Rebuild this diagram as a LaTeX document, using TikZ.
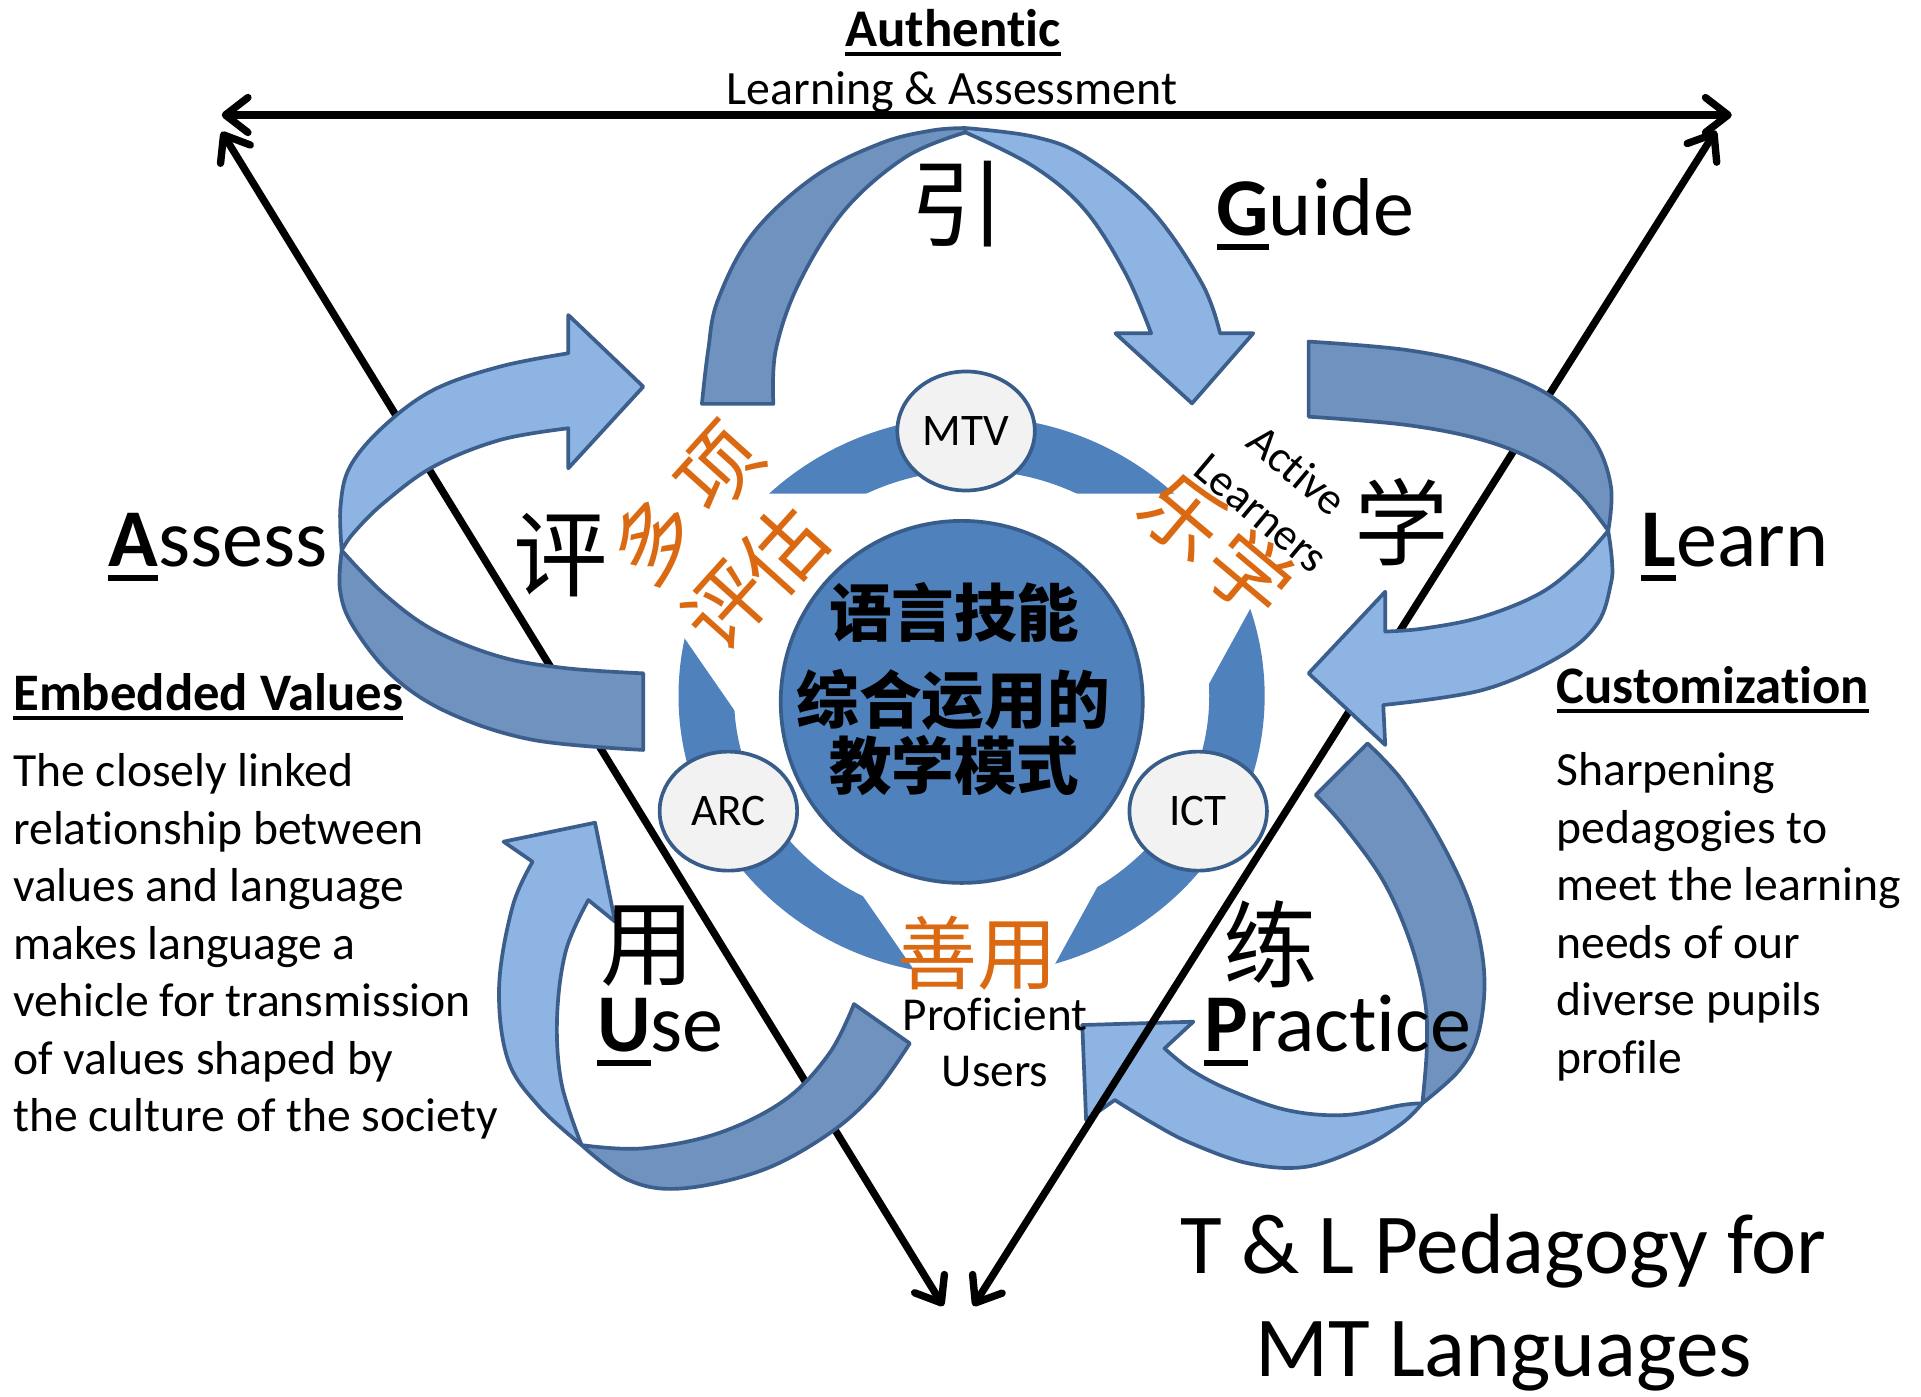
\documentclass[tikz,border=0pt]{standalone}
\usepackage{fontspec}
\setmainfont{Carlito}[Ligatures=NoCommon]
\newfontfamily\cjk{Noto Sans CJK SC}
\usetikzlibrary{arrows.meta,shapes.geometric}
\definecolor{ringblue}{RGB}{79,129,189}
\definecolor{ringedge}{RGB}{56,93,138}
\definecolor{arrdark}{RGB}{112,146,190}
\definecolor{arrlight}{RGB}{141,180,226}
\definecolor{arredge}{RGB}{59,94,140}
\definecolor{bubble}{RGB}{242,242,242}
\definecolor{orng}{RGB}{218,105,18}
\newcommand{\fs}[2]{\fontsize{#1}{#2}\selectfont}
\newcommand{\myul}[1]{\setbox0\hbox{#1}\rlap{\rule[-0.18em]{\wd0}{0.075em}}\box0}
\begin{document}
\begin{tikzpicture}[x=0.6pt,y=-0.6pt,
  every node/.style={inner sep=0pt,outer sep=0pt},
  banddark/.style={fill=arrdark,draw=arredge,line width=1.8pt,line join=round},
  bandlight/.style={fill=arrlight,draw=arredge,line width=1.8pt,line join=round},
  sideline/.style={line width=3.6pt,{Straight Barb[length=11pt,width=17pt,round]}-{Straight Barb[length=11pt,width=17pt,round]}},
  bubblenode/.style={ellipse,draw=ringedge,line width=1.8pt,fill=bubble,minimum width=67pt,minimum height=58pt,font=\fs{22}{26}},
  bigword/.style={anchor=base west,font=\fs{40}{48}},
  cjkblack/.style={font=\cjk\fs{46}{50}},
  orangech/.style={text=orng,font=\cjk\fs{40}{44}},
  sm/.style={smooth,tension=0.6}]
\fill[white] (0,0) rectangle (1560,1134);
\useasboundingbox (0,0) rectangle (1560,1134);

% ring and white triangle
\fill[ringblue,even odd rule] (789,565) ellipse [x radius=238,y radius=227] (789,565) ellipse [x radius=193,y radius=183];
\fill[white] (474.7,400.8) -- (1066.6,400.8) -- (804.6,877.6) -- cycle;

% core
\node[circle,fill=ringblue,draw=ringedge,line width=1.8pt,minimum size=176.4pt] (core) at (781,570) {};
\node[bubblenode] (mtv) at (784.5,350) {MTV};
\node[bubblenode] (arc) at (591.5,658.7) {ARC};
\node[bubblenode] (ict) at (973,658.7) {ICT};

% Practice arrow (below the lines)
\filldraw[banddark] (1110.5,603.7) -- plot[sm] coordinates {(1110.5,603.7) (1138.4,633.5) (1169.5,682.2) (1194.4,736.3) (1205.3,790.5) (1200.6,839.2) (1185.1,869) (1155,896)} -- plot[sm] coordinates {(1155,896) (1158.6,852.7) (1157.1,812.1) (1144.7,763.4) (1122.9,714.7) (1091.8,671.4) (1068.5,645.6)} -- cycle;
\filldraw[bandlight] plot[sm] coordinates {(1155,896) (1138.4,912.3) (1107.4,931.2) (1060.7,947.5) (1014.1,944.8) (967.5,928.5) (936.4,912.3) (905.3,893.3)} -- (882,909.6) -- (878.9,832.4) -- (969.1,829.7) -- (945.7,851.4) -- plot[sm] coordinates {(945.7,851.4) (967.5,869) (998.6,885.2) (1045.2,901.5) (1091.8,905.5) (1138.4,897.4) (1155,896)} -- cycle;

% triangle of double arrows
\coordinate (tl) at (180,93.4);
\coordinate (tr) at (1406.3,93.4);
\coordinate (ltop) at (180,107);
\coordinate (lbot) at (766,1060.6);
\coordinate (rtop) at (1393.5,106.1);
\coordinate (rbot) at (790.4,1060.6);
\draw[sideline] (tl) -- (tr);
\draw[sideline] (ltop) -- (lbot);
\draw[sideline] (rtop) -- (rbot);

% Guide arrow
\filldraw[banddark] plot[sm] coordinates {(570,328) (575,285) (583,243.6) (611.5,189.5) (661.3,143.5) (715.2,116.4) (756.6,106) (784,104)} -- plot[sm] coordinates {(784,107.5) (736,127.2) (686,170.5) (648.8,230) (630,284.2) (628,328)} -- cycle;
\filldraw[bandlight] plot[sm] coordinates {(784,104) (839.5,111) (881,127.2) (934.8,170.5) (976,230) (990.8,270.7)} -- (1017.7,270.7) -- (968,327.6) -- (905.8,270.7) -- (934.8,270.7) -- plot[sm] coordinates {(934.8,270.7) (914,222) (881,170.5) (839.5,135.3) (784,107.5)} -- cycle;

% Learn arrow
\filldraw[banddark] (1062.7,277.4) -- plot[sm] coordinates {(1062.7,277.4) (1142,284.2) (1204.1,297.7) (1260,322.1) (1294.2,357.3) (1308.2,395.2) (1306,431)} -- plot[sm] coordinates {(1306,431) (1281.8,400.6) (1250.7,376.2) (1204.1,357.3) (1142,345.1) (1062.7,338.4)} -- cycle;
\filldraw[bandlight] plot[sm] coordinates {(1306,431) (1309,455) (1308.2,473.7) (1297.3,506.2) (1266.3,533.3) (1204.1,560.3) (1123.3,572.5)} -- (1124.9,605) -- (1062.7,546.8) -- (1124.9,480.5) -- (1124.9,512.9) -- plot[sm] coordinates {(1124.9,512.9) (1157.5,510.2) (1204.1,500.8) (1250.7,481.8) (1281.8,457.5) (1306,431)} -- cycle;

% Assess arrow
\filldraw[banddark] plot[sm] coordinates {(522.4,609) (433.1,600.9) (365.4,579.3) (319.4,549.5) (286.9,508.9) (276.1,479.1) (277.5,447)} -- plot[sm] coordinates {(277.5,447) (311.3,481.8) (351.9,511.6) (406,533.3) (460.2,542.7) (522.4,546.8)} -- cycle;
\filldraw[bandlight] plot[sm] coordinates {(277.5,447) (276.5,411.4) (284.2,379) (311.3,346.5) (351.9,316.7) (406,297.7) (461.5,286.9)} -- (461.5,255.8) -- (522.4,314) -- (461.5,380.3) -- (461.5,347.8) -- plot[sm] coordinates {(461.5,347.8) (406,357.3) (351.9,379) (311.3,408.7) (286.9,433.1) (277.5,447)} -- cycle;

% Use arrow
\filldraw[bandlight] (432.5,699.8) -- (408.9,683.5) -- (483.2,668.1) -- (499.5,748.5) -- (477.8,730.9) -- plot[sm] coordinates {(477.8,730.9) (459.7,771.5) (452.4,825.7) (456,879.8) (472.3,929.9)} -- plot[sm] coordinates {(472.3,929.9) (437.9,898.7) (412.5,860.8) (405.3,801.3) (416.2,736.3) (432.5,699.8)} -- cycle;
\filldraw[banddark] plot[sm] coordinates {(472.3,929.9) (510.4,958.3) (553.9,965.1) (619.2,950.2) (673.5,920.4) (709.8,887.9) (738.8,847.3)} -- (693.5,815.4) -- plot[sm] coordinates {(693.5,815.4) (673.5,855.4) (637.3,893.3) (582.9,920.4) (521.3,932.6) (472.3,929.9)} -- cycle;

% core texts
\node[font=\cjk\bfseries\fs{30.5}{34}] (c1) at (775,497) {语言技能};
\node[font=\cjk\bfseries\fs{30.5}{34}] (c2) at (774,568) {综合运用的};
\node[font=\cjk\bfseries\fs{30.5}{34}] (c3) at (775,622) {教学模式};

% orange texts
\node[orangech,rotate=48] (duo) at (531,438) {多};
\node[orangech,rotate=48] (xiang) at (584,380) {项};
\node[orangech,rotate=48] (pingg) at (590,492) {评};
\node[orangech,rotate=48] (gu) at (636,447) {估};
\node[orangech,rotate=-40] (le) at (961,419) {乐};
\node[orangech,rotate=-40] (lexue) at (1015,466) {学};
\node[text=orng,font=\cjk\fs{39}{42}] (shanyong) at (794,774) {善用};

% black characters
\node[cjkblack] (yin) at (778,166) {引};
\node[cjkblack] (ping) at (455,451) {评};
\node[cjkblack] (xue) at (1138,424) {学};
\node[cjkblack] (yong) at (526,768) {用};
\node[cjkblack] (lian) at (1032,767) {练};

% big words
\node[bigword] (guide) at (988,191) {\myul{\textbf{G}}uide};
\node[bigword] (assess) at (88,460) {\myul{\textbf{A}}ssess};
\node[bigword] (learn) at (1333,460) {\myul{\textbf{L}}earn};
\node[bigword] (use) at (485,854) {\myul{\textbf{U}}se};
\node[bigword] (practice) at (978,854) {\myul{\textbf{P}}ractice};

% small labels
\node[font=\fs{22}{27},align=center,rotate=-40] (active) at (1039,399) {Active\\Learners};
\node[font=\fs{23}{27.6},align=center,anchor=north] (prof) at (808,804.3) {\strut Proficient\\Users};

% headings
\node[anchor=base,font=\bfseries\fs{25.8}{30}] (auth) at (774,38) {\myul{Authentic}};
\node[anchor=base,font=\fs{23.3}{28}] (learnass) at (773,85) {Learning \& Assessment};

\node[anchor=base west,font=\bfseries\fs{25.7}{30}] (emb) at (10.8,576.6) {\myul{Embedded Values}};
\node[anchor=north west,align=left,font=\fs{23.2}{28}] (embtxt) at (10.8,606.2) {\strut The closely linked\\relationship between\\values and language\\makes language a\\vehicle for transmission\\of values shaped by\\the culture of the society};

\node[anchor=base west,font=\bfseries\fs{25.7}{30}] (cust) at (1264,571.2) {\myul{Customization}};
\node[anchor=north west,align=left,font=\fs{23.2}{28}] (custtxt) at (1264,605.5) {\strut Sharpening\\pedagogies to\\meet the learning\\needs of our\\diverse pupils\\profile};

\node[anchor=north,align=center,font=\fs{41.6}{50.4}] (tlp) at (1221,975) {\strut T \& L Pedagogy for\\MT Languages};
\end{tikzpicture}
\end{document}
